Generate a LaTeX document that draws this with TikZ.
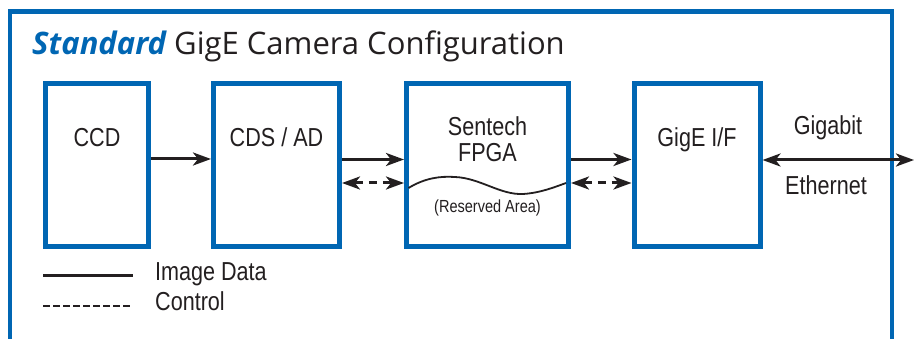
\documentclass[tikz,border=0pt]{standalone}
\usepackage{fontspec}
\setmainfont{Liberation Sans}
\newfontfamily\narrowfont[FakeStretch=0.83]{Liberation Sans}
\newfontfamily\titlefont{Open Sans}
\usetikzlibrary{arrows.meta,calc}
\definecolor{frameblue}{RGB}{0,102,179}
\definecolor{ink}{RGB}{35,31,32}
\begin{document}
\begin{tikzpicture}[x=1pt,y=-1pt,
  blk/.style={draw=frameblue, line width=5pt, fill=white, minimum width=#1, minimum height=163pt, inner sep=0pt},
  lbl/.style={font=\narrowfont\fontsize{26}{28}\selectfont, text=ink, anchor=base, inner sep=0pt},
  small/.style={font=\narrowfont\fontsize{17.5}{19}\selectfont, text=ink, anchor=base, inner sep=0pt},
  data/.style={draw=ink, line width=3pt, -{Stealth[length=18pt,width=13pt,inset=5pt]}},
  ctrl/.style={draw=ink, line width=3pt, dash pattern=on 8pt off 6pt, dash phase=-1pt, {Stealth[length=18pt,width=13pt,inset=5pt]}-{Stealth[length=18pt,width=13pt,inset=5pt]}},
  both/.style={draw=ink, line width=3pt, {Stealth[length=18pt,width=13pt,inset=5pt]}-{Stealth[length=18pt,width=13pt,inset=5pt]}},
  wave/.style={draw=ink, line width=1.8pt}]
\useasboundingbox (0,0) rectangle (915,339);
\clip (0,0) rectangle (915,339);
\fill[white] (0,0) rectangle (915,339);
% outer frame
\coordinate (fbl) at (10,345);
\coordinate (ftl) at (10,11.5);
\coordinate (ftr) at (892,11.5);
\coordinate (fbr) at (892,345);
\draw[frameblue, line width=4.6pt] (fbl) -- (ftl) -- (ftr) -- (fbr);
% title
\node[anchor=base west, inner sep=0pt, font=\titlefont\fontsize{31}{33}\selectfont, text=ink] (title) at (32,55)
  {{\color{frameblue}\itshape\bfseries Standard} GigE Camera Configuration};
% blocks
\node[blk=103pt] (ccd)  at (97,165) {};
\node[blk=126pt] (cds)  at (276.5,165) {};
\node[blk=162pt] (fpga) at (487.5,165) {};
\node[blk=126pt] (gige) at (697,165) {};
% labels
\node[lbl] (tccd) at (97,147) {CCD};
\node[lbl] (tcds) at (276.5,147) {CDS / AD};
\node[lbl] (tsen) at (487.5,136) {Sentech};
\node[lbl] (tfpga) at (487.5,162) {FPGA};
\node[small] (tres) at (487.5,212) {(Reserved Area)};
\node[lbl] (tgig) at (697,147) {GigE I/F};
\node[lbl] (tgb) at (828,135) {Gigabit};
\node[lbl] (teth) at (826,195) {Ethernet};
% wave
\draw[wave] (408.5,188) .. controls (425,178) and (440,176) .. (455,177)
  .. controls (480,178) and (500,195) .. (523,194)
  .. controls (540,193) and (555,187) .. (566,183);
% rows
\coordinate (r0) at (0,159);
\coordinate (r1) at (0,159.5);
\coordinate (r2) at (0,183);
\coordinate (r3) at (0,160);
\coordinate (netend) at (914,160);
\draw[data] (ccd.east |- r0) -- (cds.west |- r0);
\draw[data] (cds.east |- r1) -- (fpga.west |- r1);
\draw[ctrl] (cds.east |- r2) -- (fpga.west |- r2);
\draw[data] (fpga.east |- r1) -- (gige.west |- r1);
\draw[ctrl] (fpga.east |- r2) -- (gige.west |- r2);
\draw[both] (gige.east |- r3) -- (netend);
% legend
\coordinate (l1a) at (43,275.5);
\coordinate (l1b) at (133,275.5);
\coordinate (l2a) at (43,306);
\coordinate (l2b) at (133,306);
\draw[draw=ink, line width=2.4pt] (l1a) -- (l1b);
\draw[draw=ink, line width=2.4pt, dash pattern=on 6.5pt off 3.5pt] (l2a) -- (l2b);
\node[lbl, anchor=base west] (timg) at (155,280) {Image Data};
\node[lbl, anchor=base west] (tctl) at (155,310) {Control};
\end{tikzpicture}
\end{document}
